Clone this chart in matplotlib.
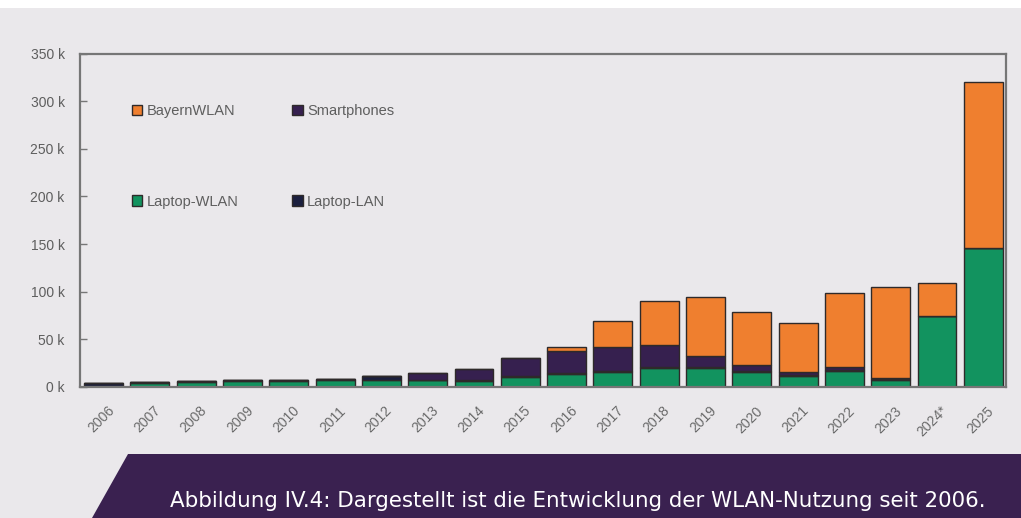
import matplotlib
matplotlib.use("Agg")
import matplotlib.pyplot as plt
from matplotlib.patches import Polygon, Rectangle, Patch
from matplotlib.ticker import FuncFormatter
from matplotlib.transforms import ScaledTranslation
import numpy as np

years = ["2006", "2007", "2008", "2009", "2010", "2011", "2012", "2013", "2014", "2015",
         "2016", "2017", "2018", "2019", "2020", "2021", "2022", "2023", "2024*", "2025"]
laptop_wlan = [1.5, 4.0, 5.0, 6.0, 6.0, 7.5, 7.4, 7.0, 6.5, 11.0,
               13.5, 15.5, 20.0, 19.5, 16.0, 12.0, 17.0, 7.5, 74.6, 146.0]
laptop_lan = [2.7, 1.2, 1.2, 1.0, 1.0, 1.3, 4.5, 0.8, 0.8, 1.0,
              1.0, 1.2, 1.2, 1.0, 1.0, 1.0, 1.0, 0.5, 0.3, 0.0]
smartphones = [0, 0, 0, 0, 0, 0, 0, 6.6, 11.3, 18.0,
               23.5, 24.9, 22.8, 12.0, 6.5, 2.7, 3.0, 1.0, 0, 0]
bayernwlan = [0, 0, 0, 0, 0, 0, 0, 0, 0, 0,
              3.6, 27.8, 46.7, 61.5, 55.0, 51.3, 78.0, 95.8, 34.1, 174.0]
yticks = [0, 50, 100, 150, 200, 250, 300, 350]
caption = "Abbildung IV.4: Dargestellt ist die Entwicklung der WLAN-Nutzung seit 2006."

W, H = 1021, 518
fig = plt.figure(figsize=(W / 100, H / 100), dpi=100)
fig.patch.set_facecolor("white")
bg = "#eae8eb"
fig.patches.append(Rectangle((0, 0), 1, 1 - 8 / H, transform=fig.transFigure,
                             facecolor=bg, edgecolor="none", zorder=-10))

ax = fig.add_axes([80 / W, 1 - 387 / H, 926 / W, 333.5 / H])
ax.set_facecolor(bg)

c_green = "#12935f"
c_lan = "#1b1f3f"
c_smart = "#36204f"
c_orange = "#ef7f2f"
edge = "#2e2a2a"

x = np.arange(len(years))
w = 0.84
b1 = np.array(laptop_wlan)
b2 = b1 + np.array(laptop_lan)
b3 = b2 + np.array(smartphones)
kw = dict(width=w, edgecolor=edge, linewidth=1.0)
ax.bar(x, laptop_wlan, color=c_green, **kw)
ax.bar(x, laptop_lan, bottom=b1, color=c_lan, **kw)
ax.bar(x, smartphones, bottom=b2, color=c_smart, **kw)
ax.bar(x, bayernwlan, bottom=b3, color=c_orange, **kw)

ax.set_xlim(-0.51, 19.49)
ax.set_ylim(0, 350)
ax.set_yticks(yticks)
ax.yaxis.set_major_formatter(FuncFormatter(lambda v, p: f"{int(v)} k"))
ax.set_xticks(x)
ax.set_xticklabels(years, rotation=45, ha="right", rotation_mode="anchor")

for s in ax.spines.values():
    s.set_color("#767676")
    s.set_linewidth(1.6)
ax.tick_params(axis="y", direction="in", length=5, width=1, color="#767676",
               pad=11, labelsize=10, labelcolor="#5e5e5e")
ax.tick_params(axis="x", length=0, pad=12, labelsize=10, labelcolor="#6a6a6a")
off = ScaledTranslation(3.5 / 100, 0, fig.dpi_scale_trans)
for lab in ax.get_xticklabels():
    lab.set_fontfamily("Liberation Sans")
    lab.set_transform(lab.get_transform() + off)
for lab in ax.get_yticklabels():
    lab.set_fontfamily("Liberation Sans")

handles = [Patch(facecolor=c_orange, edgecolor=edge, label="BayernWLAN"),
           Patch(facecolor=c_green, edgecolor=edge, label="Laptop-WLAN"),
           Patch(facecolor=c_smart, edgecolor=edge, label="Smartphones"),
           Patch(facecolor=c_lan, edgecolor=edge, label="Laptop-LAN")]
leg = ax.legend(handles=handles, ncol=2, loc="upper left",
                bbox_to_anchor=((132 - 80) / 926, (387 - 104) / 333.5),
                frameon=False, fontsize=10.5, handlelength=0.7, handleheight=0.7,
                handletextpad=0.3, labelspacing=5.25, columnspacing=3.7,
                borderpad=0, borderaxespad=0)
for t in leg.get_texts():
    t.set_color("#5e5e5e")
    t.set_fontfamily("Liberation Sans")

# caption banner
pts = [(128, 454), (W, 454), (W, H), (92, H)]
poly = Polygon([(px / W, 1 - py / H) for px, py in pts], closed=True,
               transform=fig.transFigure, facecolor="#3a2150", edgecolor="none", zorder=5)
fig.patches.append(poly)
fig.text(578 / W, 1 - 507 / H, caption, ha="center", va="baseline",
         color="white", fontsize=15.4, fontfamily="DejaVu Sans", zorder=6)

fig.savefig("out.png", dpi=100, facecolor=fig.get_facecolor())
